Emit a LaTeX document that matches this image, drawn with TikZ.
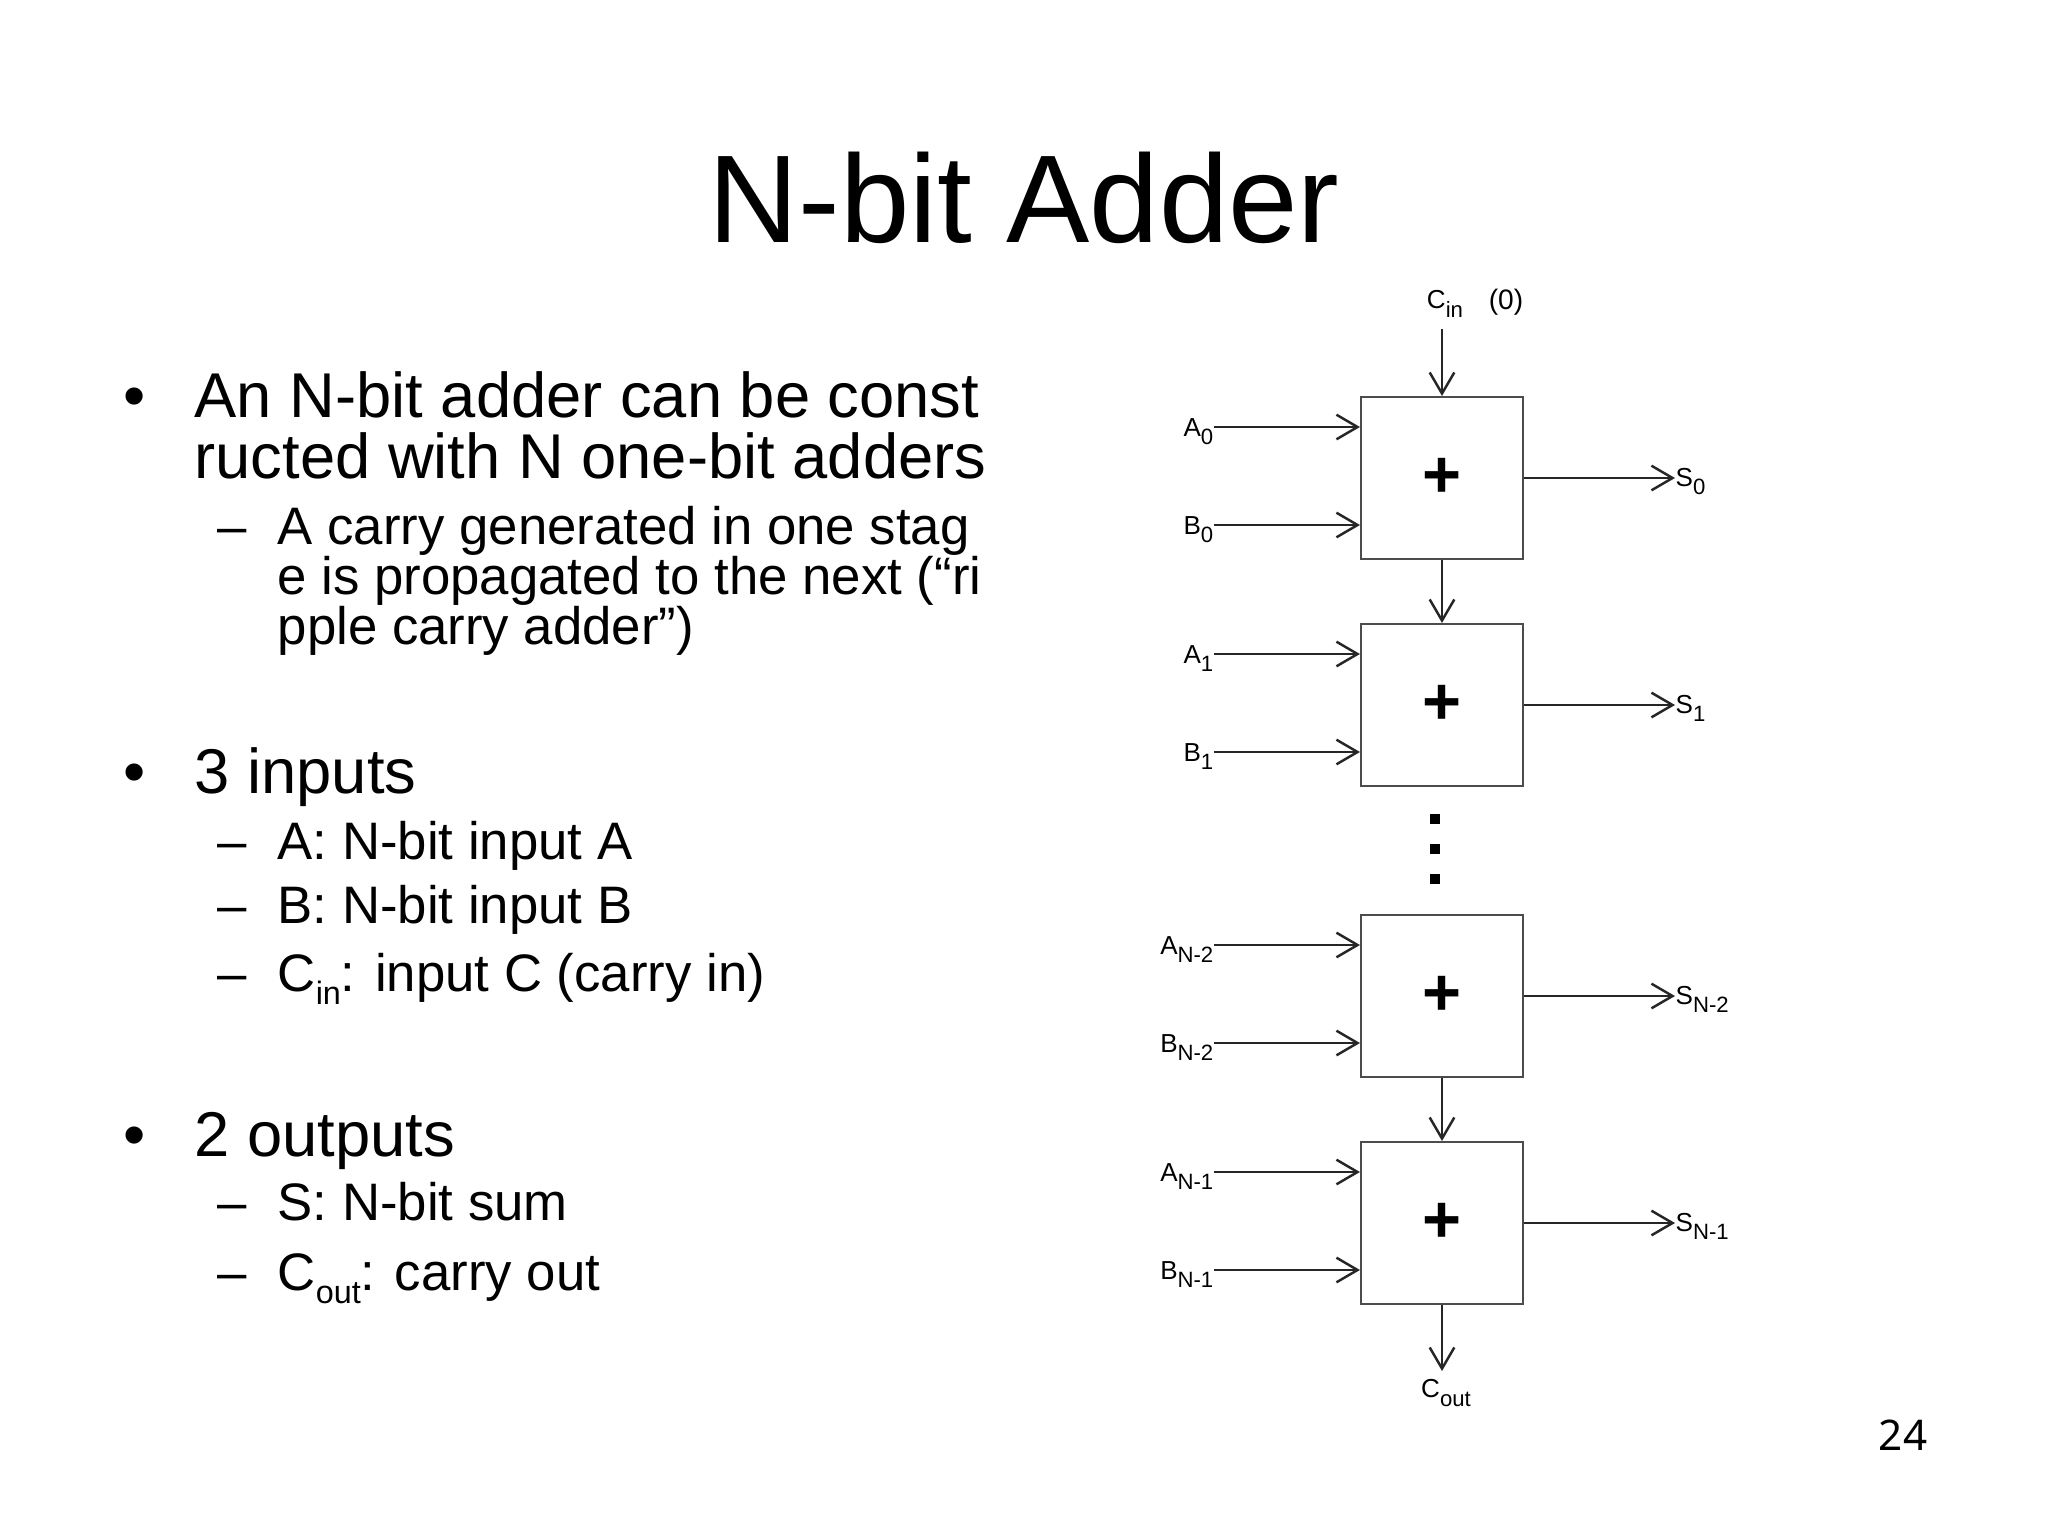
\documentclass[tikz,border=0pt]{standalone}
\usepackage{fontspec}
\setmainfont{Liberation Sans}
\newfontfamily\pagefont{Noto Sans}
\usetikzlibrary{arrows.meta,positioning}
\newcommand{\lsub}[1]{\raisebox{-2.4pt}{\fontsize{6.3}{6}\selectfont #1}}
\newcommand{\tsub}[1]{\raisebox{-3.9pt}{\fontsize{9.2}{10}\selectfont #1}}

\begin{document}
\begin{tikzpicture}[x=0.01cm,y=-0.01cm,
  adder/.style={draw=black!70,line width=0.55pt,minimum width=1.62cm,
                minimum height=1.62cm,inner sep=0pt,
                font=\fontsize{19}{19}\selectfont\bfseries},
  lbl/.style={inner sep=0pt,font=\fontsize{7.4}{7}\selectfont},
  bul/.style={anchor=base,inner sep=0pt,font=\fontsize{18}{18}\selectfont},
  line/.style={anchor=base west,inner sep=0pt,font=\fontsize{18}{18}\selectfont},
  subline/.style={anchor=base west,inner sep=0pt,font=\fontsize{15}{15}\selectfont},
  arr/.style={-{Straight Barb[length=6pt,width=7pt]},line width=0.7pt,black!85}]
  \fill[white] (0,0) rectangle (2048,1536);
  \useasboundingbox (0,0) rectangle (2048,1536);

  \node[anchor=base,inner sep=0pt,font=\fontsize{35.5}{36}\selectfont] (title) at (1024,242) {N-bit Adder};

  % bullet text
  \foreach \y [count=\i] in {417,793,1156}
    \node[bul] (dot\i) at (135,\y) {•};
  \foreach \y [count=\i] in {544,859,923,991,1220,1290}
    \node[subline] (dash\i) at (217,\y) {–};
  \node[line] (carry1) at (194,417) {An N-bit adder can be const};
  \node[line] (carry2) at (194,478) {ructed with N one-bit adders};
  \node[subline] (ripple1) at (277,544) {A carry generated in one stag};
  \node[subline] (ripple2) at (277,594) {e is propagated to the next (“ri};
  \node[subline] (ripple3) at (277,644) {pple carry adder”)};
  \node[line] (inputs) at (194,793) {3 inputs};
  \node[subline] (ina) at (277,859) {A: N-bit input A};
  \node[subline] (inb) at (277,923) {B: N-bit input B};
  \node[subline] (inc) at (277,991) {C\tsub{in}: input C (carry in)};
  \node[line] (outputs) at (194,1156) {2 outputs};
  \node[subline] (outs) at (277,1220) {S: N-bit sum};
  \node[subline] (outc) at (277,1290) {C\tsub{out}: carry out};

  % ripple carry chain
  \foreach \nm/\ty/\sub [count=\i] in {add0/396/0, add1/623/1, add2/914/{N-2}, add3/1141/{N-1}} {
    \node[adder] (\nm) at (1442,\ty+82) {+};
    \node[lbl,anchor=mid east] (a\i) at (1214,\ty+31) {A\lsub{\sub}};
    \node[lbl,anchor=mid east] (b\i) at (1214,\ty+129) {B\lsub{\sub}};
    \node[lbl,anchor=mid west] (sum\i) at (1675,\ty+81) {S\lsub{\sub}};
    \draw[arr] (a\i.mid east) -- (a\i.mid east -| \nm.west);
    \draw[arr] (b\i.mid east) -- (b\i.mid east -| \nm.west);
    \draw[arr] (\nm.east) -- (\nm.east -| sum\i.mid west);
  }
  \node[lbl] (cin) at (1445,304) {C\lsub{in}};
  \node[lbl,font=\fontsize{8}{8}\selectfont] (zero) at (1506,302) {(0)};
  \coordinate (cintop) at (1442,329);
  \draw[arr] (cintop) -- (add0.north);
  \draw[arr] (add0) -- (add1);
  \draw[arr] (add2) -- (add3);
  \node[lbl] (cout) at (1446,1393) {C\lsub{out}};
  \coordinate (coutend) at (1442,1371);
  \draw[arr] (add3.south) -- (coutend);
  \foreach \y in {819,849,879}
    \fill (1430,\y-5) rectangle (1440,\y+5);

  \node[anchor=base,inner sep=0pt,font=\pagefont\fontsize{12}{12}\selectfont] (pgno) at (1903,1450) {24};
\end{tikzpicture}
\end{document}
